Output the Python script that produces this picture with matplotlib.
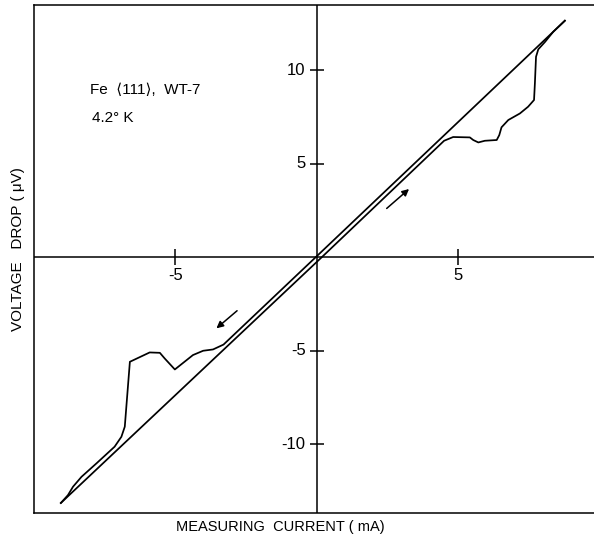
"""I-V hysteresis trace for an Fe <111> whisker at 4.2 K."""

import matplotlib.pyplot as plt

plt.rcParams["font.family"] = ["Liberation Sans", "DejaVu Sans"]

# Rising sweep: straight from the negative end, then the jumps above +4.5 mA
up_current = [-9.05, 0.18, 4.50, 4.82, 5.41, 5.53, 5.71, 5.94, 6.36, 6.45, 6.53,
              6.77, 7.18, 7.47, 7.68, 7.71, 7.75, 7.83, 8.07, 8.36, 8.77]
up_voltage = [-13.15, 0.0, 6.22, 6.42, 6.40, 6.26, 6.13, 6.22, 6.26, 6.52, 6.94,
              7.33, 7.68, 8.04, 8.40, 9.29, 10.71, 11.11, 11.51, 12.05, 12.64]

# Falling sweep: straight from the positive end, then the jumps below -3.6 mA
down_current = [8.77, 0.0, -3.30, -3.67, -4.02, -4.38, -5.02, -5.38, -5.55, -5.91, -6.61,
                -6.67, -6.79, -6.91, -7.15, -7.79, -8.32, -8.62, -8.80, -9.05]
down_voltage = [12.64, 0.05, -4.68, -4.94, -5.01, -5.24, -6.01, -5.42, -5.12, -5.10, -5.60,
                -6.75, -9.07, -9.61, -10.14, -11.03, -11.75, -12.28, -12.73, -13.15]

x_ticks = [-5, 5]
x_tick_labels = ["-5", "5"]
y_ticks = [10, 5, -5, -10]
y_tick_labels = ["10", "5", "-5", "-10"]

W, H = 594, 539
fig = plt.figure(figsize=(W / 100, H / 100), dpi=100)
ax = fig.add_axes([34 / W, 1 - 512.7 / H, 1 - 34 / W, (512.7 - 5) / H])
ax.set_xlim(-10.0, 9.8)
ax.set_ylim(-13.67, 13.48)

for side in ("left", "top", "bottom"):
    ax.spines[side].set_linewidth(1.1)
ax.spines["right"].set_visible(False)
ax.set_xticks([])
ax.set_yticks([])

# Axes through the origin with crossing tick marks
ax.axhline(0, color="black", lw=1.1)
ax.axvline(0, color="black", lw=1.1)
ax.plot(x_ticks, [0] * len(x_ticks), ls="none", marker="|", ms=11, mew=1.1, color="black")
ax.plot([0] * len(y_ticks), y_ticks, ls="none", marker="_", ms=10, mew=1.1, color="black")

for xv, lab in zip(x_ticks, x_tick_labels):
    ax.annotate(lab, (xv, 0), xytext=(0, -13), textcoords="offset points",
                ha="center", va="center", fontsize=12)
for yv, lab in zip(y_ticks, y_tick_labels):
    ax.annotate(lab, (0, yv), xytext=(-8, 0), textcoords="offset points",
                ha="right", va="center", fontsize=12)

# Hysteresis loop
ax.plot(up_current, up_voltage, color="black", lw=1.25, solid_joinstyle="round")
ax.plot(down_current, down_voltage, color="black", lw=1.25, solid_joinstyle="round")

# Sweep direction arrows
arrow = dict(arrowstyle="-|>", color="black", lw=1.1, mutation_scale=10, shrinkA=0, shrinkB=0)
ax.annotate("", xy=(3.26, 3.64), xytext=(2.47, 2.60), arrowprops=arrow)
ax.annotate("", xy=(-3.55, -3.81), xytext=(-2.82, -2.87), arrowprops=arrow)

fig.text(90 / W, 1 - 90 / H, "Fe  \u27e8111\u27e9,  WT-7", ha="left", va="center", fontsize=11)
fig.text(92 / W, 1 - 118 / H, "4.2\u00b0 K", ha="left", va="center", fontsize=11)

fig.text(280 / W, 1 - 527 / H, "MEASURING  CURRENT ( mA)", ha="center", va="center", fontsize=10.5)
fig.text(18 / W, 1 - 249 / H, "VOLTAGE   DROP ( \u03bcV)", ha="center", va="center",
         rotation=90, fontsize=11)

fig.savefig("out.png", dpi=100)
